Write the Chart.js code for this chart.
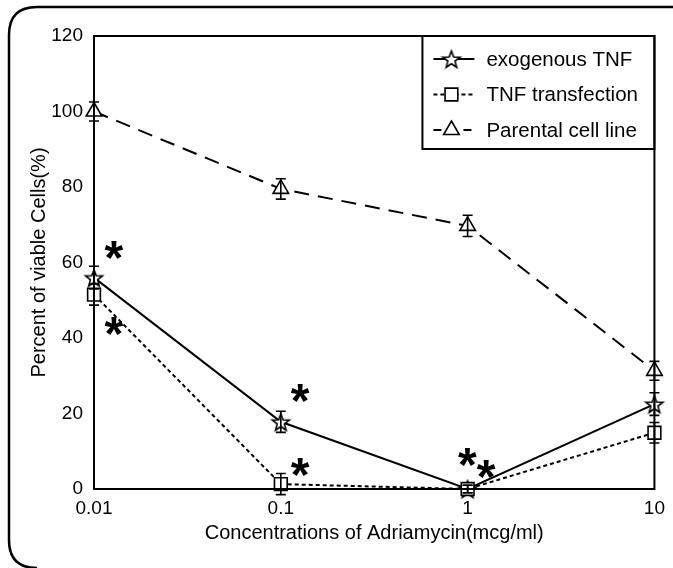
<!DOCTYPE html>
<html><head><meta charset="utf-8">
<script src="https://cdn.jsdelivr.net/npm/chart.js@4/dist/chart.umd.min.js"></script>
<style>html,body{margin:0;padding:0;background:#fff}#wrap{width:673px;height:568px;position:relative}canvas{display:block}</style>
</head><body><div id="wrap"><canvas id="c" width="673" height="568"></canvas></div>
<script>
// ---- data ----
const concentrations = [0.01, 0.1, 1, 10];
const xTickValues = [0.01, 0.1, 1, 10];
const xTickLabels = ['0.01', '0.1', '1', '10'];
const seriesLabels = ['exogenous TNF', 'TNF transfection', 'Parental cell line'];
const exoTNF = [56, 17.8, 0, 22.5];
const exoTNFErr = [3, 2.8, 1, 3];
const tnfTransfection = [51.5, 1.3, 0, 14.9];
const tnfTransfectionErr = [2.8, 2.8, 1, 2.7];
const parental = [100, 79.5, 69.7, 31.3];
const parentalErr = [2.5, 2.7, 2.8, 2.5];
const asteriskX = [0.0128, 0.0128, 0.127, 0.127, 1.0, 1.26];
const asteriskY = [63.4, 43.2, 25.4, 5.8, 8.6, 5.3];

const FONT = "'Liberation Sans', Arial, sans-serif";

function makeStar(R) {
  const s = Math.ceil(R * 2 + 4);
  const cv = document.createElement('canvas');
  cv.width = s; cv.height = s;
  const c = cv.getContext('2d');
  const cx = s / 2, cy = s / 2 + 1, r = R * 0.42;
  c.beginPath();
  for (let k = 0; k < 10; k++) {
    const ang = -Math.PI / 2 + k * Math.PI / 5;
    const rr = k % 2 === 0 ? R : r;
    const px = cx + rr * Math.cos(ang), py = cy + rr * Math.sin(ang);
    k === 0 ? c.moveTo(px, py) : c.lineTo(px, py);
  }
  c.closePath();
  c.fillStyle = '#fff'; c.fill();
  c.lineWidth = 1.6; c.strokeStyle = '#000'; c.stroke();
  return cv;
}
const starImg = makeStar(9);

function toPts(vals) { return concentrations.map((x, i) => ({ x: x, y: vals[i] })); }

const datasets = [
  { label: seriesLabels[2], data: toPts(parental), errors: parentalErr, borderColor: '#000', borderWidth: 2,
    borderDash: [15, 9], pointStyle: 'triangle', pointRadius: 9, pointBackgroundColor: '#fff', pointBorderColor: '#000',
    pointBorderWidth: 1.6, fill: false, tension: 0, clip: false, legendRow: 2 },
  { label: seriesLabels[1], data: toPts(tnfTransfection), errors: tnfTransfectionErr, borderColor: '#000', borderWidth: 2,
    borderDash: [4, 3], pointStyle: 'rect', pointRadius: 9, pointBackgroundColor: '#fff', pointBorderColor: '#000',
    pointBorderWidth: 1.6, fill: false, tension: 0, clip: false, legendRow: 1 },
  { label: seriesLabels[0], data: toPts(exoTNF), errors: exoTNFErr, borderColor: '#000', borderWidth: 2,
    borderDash: [], pointStyle: starImg, pointRadius: 9, pointBackgroundColor: '#fff', pointBorderColor: '#000',
    fill: false, tension: 0, clip: false, legendRow: 0 }
];

const frame = {
  id: 'frame',
  afterDraw(chart) {
    const ctx = chart.ctx, a = chart.chartArea;
    ctx.save();
    ctx.strokeStyle = '#000'; ctx.lineWidth = 2;
    ctx.strokeRect(a.left, a.top, a.right - a.left, a.bottom - a.top);
    // outer rounded border (left, top and bottom-left corner visible)
    const x = 9, y = 7, r = 28, bottom = 568;
    ctx.beginPath();
    ctx.moveTo(673, y);
    ctx.lineTo(x + r, y);
    ctx.quadraticCurveTo(x, y, x, y + r);
    ctx.lineTo(x, bottom - r);
    ctx.quadraticCurveTo(x, bottom, x + r, bottom);
    ctx.lineWidth = 2.5; ctx.stroke();
    ctx.restore();
  }
};

const errorBars = {
  id: 'errorBars',
  afterDatasetsDraw(chart) {
    const ctx = chart.ctx, xs = chart.scales.x, ys = chart.scales.y;
    ctx.save(); ctx.strokeStyle = '#000'; ctx.lineWidth = 1.6; ctx.setLineDash([]);
    chart.data.datasets.forEach(ds => {
      ds.data.forEach((p, i) => {
        const e = ds.errors[i];
        const px = xs.getPixelForValue(p.x);
        const yt = ys.getPixelForValue(p.y + e), yb = ys.getPixelForValue(p.y - e);
        ctx.beginPath();
        ctx.moveTo(px, yt); ctx.lineTo(px, yb);
        ctx.moveTo(px - 5, yt); ctx.lineTo(px + 5, yt);
        ctx.moveTo(px - 5, yb); ctx.lineTo(px + 5, yb);
        ctx.stroke();
      });
    });
    ctx.restore();
  }
};

const asterisks = {
  id: 'asterisks',
  afterDatasetsDraw(chart) {
    const ctx = chart.ctx, xs = chart.scales.x, ys = chart.scales.y;
    ctx.save(); ctx.fillStyle = '#000';
    ctx.font = 'bold 48px ' + FONT; ctx.textBaseline = 'alphabetic'; ctx.textAlign = 'left';
    const m = ctx.measureText('*');
    asteriskX.forEach((xv, i) => {
      const px = xs.getPixelForValue(xv), py = ys.getPixelForValue(asteriskY[i]);
      const dx = (m.actualBoundingBoxRight - m.actualBoundingBoxLeft) / 2;
      const dy = (m.actualBoundingBoxDescent - m.actualBoundingBoxAscent) / 2;
      ctx.fillText('*', px - dx, py - dy);
    });
    ctx.restore();
  }
};

function drawMarker(ctx, style, x, y, r) {
  if (style instanceof HTMLCanvasElement) {
    ctx.drawImage(style, x - style.width / 2, y - style.height / 2);
    return;
  }
  ctx.beginPath();
  if (style === 'triangle') {
    ctx.moveTo(x, y - r);
    ctx.lineTo(x + r * Math.sin(2 * Math.PI / 3), y - r * Math.cos(2 * Math.PI / 3));
    ctx.lineTo(x + r * Math.sin(4 * Math.PI / 3), y - r * Math.cos(4 * Math.PI / 3));
    ctx.closePath();
  } else {
    const s = Math.SQRT1_2 * r;
    ctx.rect(x - s, y - s, 2 * s, 2 * s);
  }
  ctx.fillStyle = '#fff'; ctx.fill();
  ctx.lineWidth = 1.6; ctx.strokeStyle = '#000'; ctx.stroke();
}

const legendBox = {
  id: 'legendBox',
  afterDraw(chart) {
    const ctx = chart.ctx, a = chart.chartArea;
    const w = 232, h = 113, x0 = a.right - w, y0 = a.top;
    ctx.save();
    ctx.fillStyle = '#fff'; ctx.fillRect(x0, y0, w, h);
    ctx.lineWidth = 2; ctx.strokeStyle = '#000'; ctx.strokeRect(x0, y0, w, h);
    chart.data.datasets.forEach(ds => {
      const y = y0 + 23 + ds.legendRow * 35.5;
      ctx.setLineDash(ds.borderDash.length ? (ds.borderDash[0] > 8 ? [8, 22] : [4, 3]) : []);
      ctx.lineWidth = 2; ctx.strokeStyle = '#000';
      ctx.beginPath(); ctx.moveTo(x0 + 11, y); ctx.lineTo(x0 + 52, y); ctx.stroke();
      ctx.setLineDash([]);
      drawMarker(ctx, ds.pointStyle, x0 + 29, y, 9);
      ctx.fillStyle = '#000'; ctx.font = '20.5px ' + FONT; ctx.textBaseline = 'middle'; ctx.textAlign = 'left';
      ctx.fillText(ds.label, x0 + 64, y + 1);
    });
    ctx.restore();
  }
};

new Chart(document.getElementById('c'), {
  type: 'line',
  data: { datasets: datasets },
  options: {
    responsive: false, animation: false, devicePixelRatio: 1, events: [],
    layout: { padding: { left: 0, right: 16, top: 36, bottom: 0 } },
    plugins: { legend: { display: false }, tooltip: { enabled: false } },
    scales: {
      x: {
        type: 'logarithmic', min: 0.01, max: 10,
        grid: { display: false, drawTicks: false }, border: { display: false },
        afterBuildTicks: s => { s.ticks = xTickValues.map(v => ({ value: v })); },
        afterFit: s => { s.height = 79; },
        ticks: { color: '#000', font: { family: FONT, size: 19 }, padding: 8, maxRotation: 0, autoSkip: false,
          callback: (v) => { const i = xTickValues.indexOf(v); return i >= 0 ? xTickLabels[i] : ''; } },
        title: { display: true, text: 'Concentrations of Adriamycin(mcg/ml)', color: '#000',
          font: { family: FONT, size: 20 }, padding: { top: 23, bottom: 23 } }
      },
      y: {
        min: 0, max: 120,
        grid: { display: false, drawTicks: false }, border: { display: false },
        afterFit: s => { s.width = 94; },
        ticks: { stepSize: 20, color: '#000', font: { family: FONT, size: 19 }, padding: 11 },
        title: { display: true, text: 'Percent of viable Cells(%)', color: '#000',
          font: { family: FONT, size: 20 }, padding: { top: 27, bottom: 27 } }
      }
    }
  },
  plugins: [errorBars, asterisks, legendBox, frame]
});
</script>
</body></html>
